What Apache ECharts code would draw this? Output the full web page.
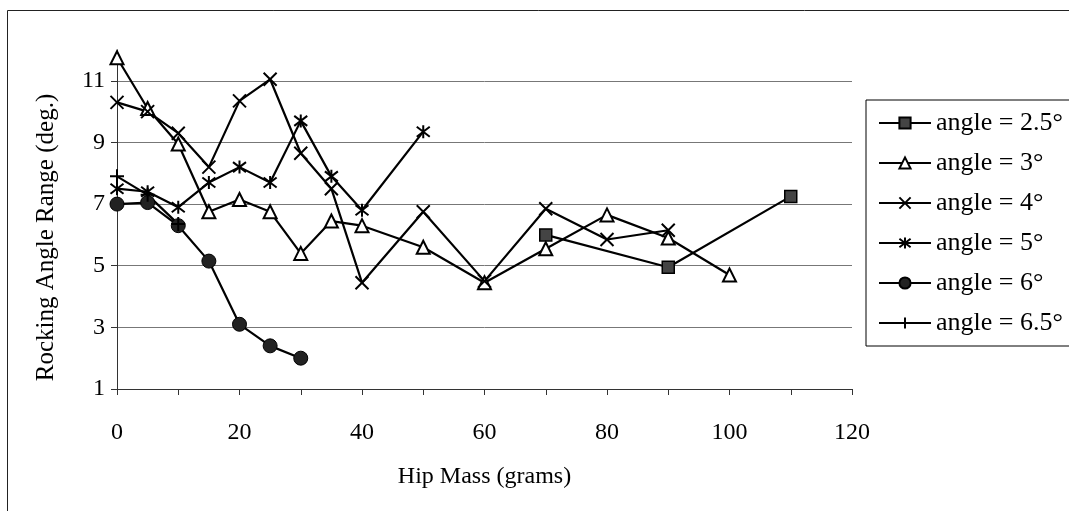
<!DOCTYPE html>
<html>
<head>
<meta charset="utf-8">
<script src="https://cdn.jsdelivr.net/npm/echarts@6/dist/echarts.min.js"></script>
<style>
  html, body { margin: 0; padding: 0; background: #fff; }
  #chart { width: 1069px; height: 511px; }
</style>
</head>
<body>
<div id="chart"></div>
<script>
// Rocking angle range versus hip mass, one series per ramp angle
const seriesNames = ['angle = 2.5°', 'angle = 3°', 'angle = 4°', 'angle = 5°', 'angle = 6°', 'angle = 6.5°'];

const angle25 = [[70, 6.0], [90, 4.95], [110, 7.25]];
const angle3 = [[0, 11.75], [5, 10.1], [10, 8.95], [15, 6.75], [20, 7.15], [25, 6.75], [30, 5.4],
                [35, 6.45], [40, 6.3], [50, 5.6], [60, 4.45], [70, 5.55], [80, 6.65], [90, 5.9], [100, 4.7]];
const angle4 = [[0, 10.3], [5, 10.0], [10, 9.3], [15, 8.2], [20, 10.35], [25, 11.05], [30, 8.65],
                [35, 7.5], [40, 4.45], [50, 6.75], [60, 4.5], [70, 6.85], [80, 5.85], [90, 6.15]];
const angle5 = [[0, 7.5], [5, 7.4], [10, 6.9], [15, 7.7], [20, 8.2], [25, 7.7], [30, 9.7],
                [35, 7.9], [40, 6.8], [50, 9.35]];
const angle6 = [[0, 7.0], [5, 7.05], [10, 6.3], [15, 5.15], [20, 3.1], [25, 2.4], [30, 2.0]];
const angle65 = [[0, 7.9], [5, 7.3], [10, 6.35]];

const yTicks = [1, 3, 5, 7, 9, 11];

const FONT = '"Liberation Serif", "Times New Roman", serif';

const crossPath = 'path://M0,0L10,10M10,0L0,10';
const starPath = 'path://M0,0L10,10M10,0L0,10M5,-1.5L5,11.5';
const plusPath = 'path://M0,5L10,5M5,0L5,10';

function lineSeries(name, data, symbol, size, itemStyle) {
  return {
    name: name,
    type: 'line',
    data: data,
    symbol: symbol,
    symbolSize: size,
    showAllSymbol: true,
    clip: false,
    lineStyle: { color: '#000', width: 2.2 },
    itemStyle: Object.assign({ color: '#000', borderColor: '#000', borderWidth: 2 }, itemStyle || {}),
    emphasis: { disabled: true },
    z: 3
  };
}

const chart = echarts.init(document.getElementById('chart'), null, { renderer: 'canvas' });

chart.setOption({
  backgroundColor: '#fff',
  animation: false,
  textStyle: { fontFamily: FONT },
  graphic: [{
    type: 'rect',
    shape: { x: 7.5, y: 10.5, width: 1200, height: 700 },
    style: { fill: 'none', stroke: '#222', lineWidth: 1 },
    silent: true,
    z: -10
  }],
  grid: { left: 117, right: 217, top: 50, bottom: 122 },
  legend: {
    orient: 'vertical',
    left: 866,
    top: 100,
    padding: [10, 60, 10, 12],
    itemWidth: 52,
    itemHeight: 14,
    itemGap: 14,
    borderColor: '#000',
    borderWidth: 1,
    backgroundColor: '#fff',
    selectedMode: false,
    textStyle: { fontFamily: FONT, fontSize: 26, color: '#000', lineHeight: 26 },
    data: seriesNames
  },
  xAxis: {
    type: 'value',
    min: 0,
    max: 120,
    interval: 10,
    name: 'Hip Mass (grams)',
    nameLocation: 'middle',
    nameGap: 76,
    nameTextStyle: { fontFamily: FONT, fontSize: 24, color: '#000' },
    axisLine: { show: true, lineStyle: { color: '#333', width: 1 } },
    axisTick: { show: true, inside: false, length: 6, lineStyle: { color: '#333' } },
    axisLabel: {
      fontFamily: FONT, fontSize: 24, color: '#000', margin: 32,
      formatter: v => (v % 20 === 0 ? String(v) : '')
    },
    splitLine: { show: false }
  },
  yAxis: {
    type: 'value',
    min: 1,
    max: 12,
    interval: 2,
    name: 'Rocking Angle Range (deg.)',
    nameLocation: 'middle',
    nameGap: 58,
    nameTextStyle: { fontFamily: FONT, fontSize: 25, color: '#000', padding: [0, 36, 0, 0] },
    axisLine: { show: true, lineStyle: { color: '#333', width: 1 } },
    axisTick: { show: true, length: 6, customValues: yTicks, lineStyle: { color: '#333' } },
    axisLabel: {
      fontFamily: FONT, fontSize: 24, color: '#000', margin: 12,
      customValues: yTicks
    },
    splitLine: { show: true, showMinLine: false, lineStyle: { color: '#777', width: 1 } }
  },
  series: [
    lineSeries(seriesNames[0], angle25, 'rect', 12, { color: '#444', borderWidth: 1.5 }),
    lineSeries(seriesNames[1], angle3, 'triangle', 13, { color: '#fff', borderWidth: 2 }),
    lineSeries(seriesNames[2], angle4, crossPath, 13, { color: 'none', borderWidth: 2 }),
    lineSeries(seriesNames[3], angle5, starPath, 13, { color: 'none', borderWidth: 2 }),
    lineSeries(seriesNames[4], angle6, 'circle', 14, { color: '#222', borderWidth: 1 }),
    lineSeries(seriesNames[5], angle65, plusPath, 14, { color: 'none', borderWidth: 2 })
  ]
});
</script>
</body>
</html>
